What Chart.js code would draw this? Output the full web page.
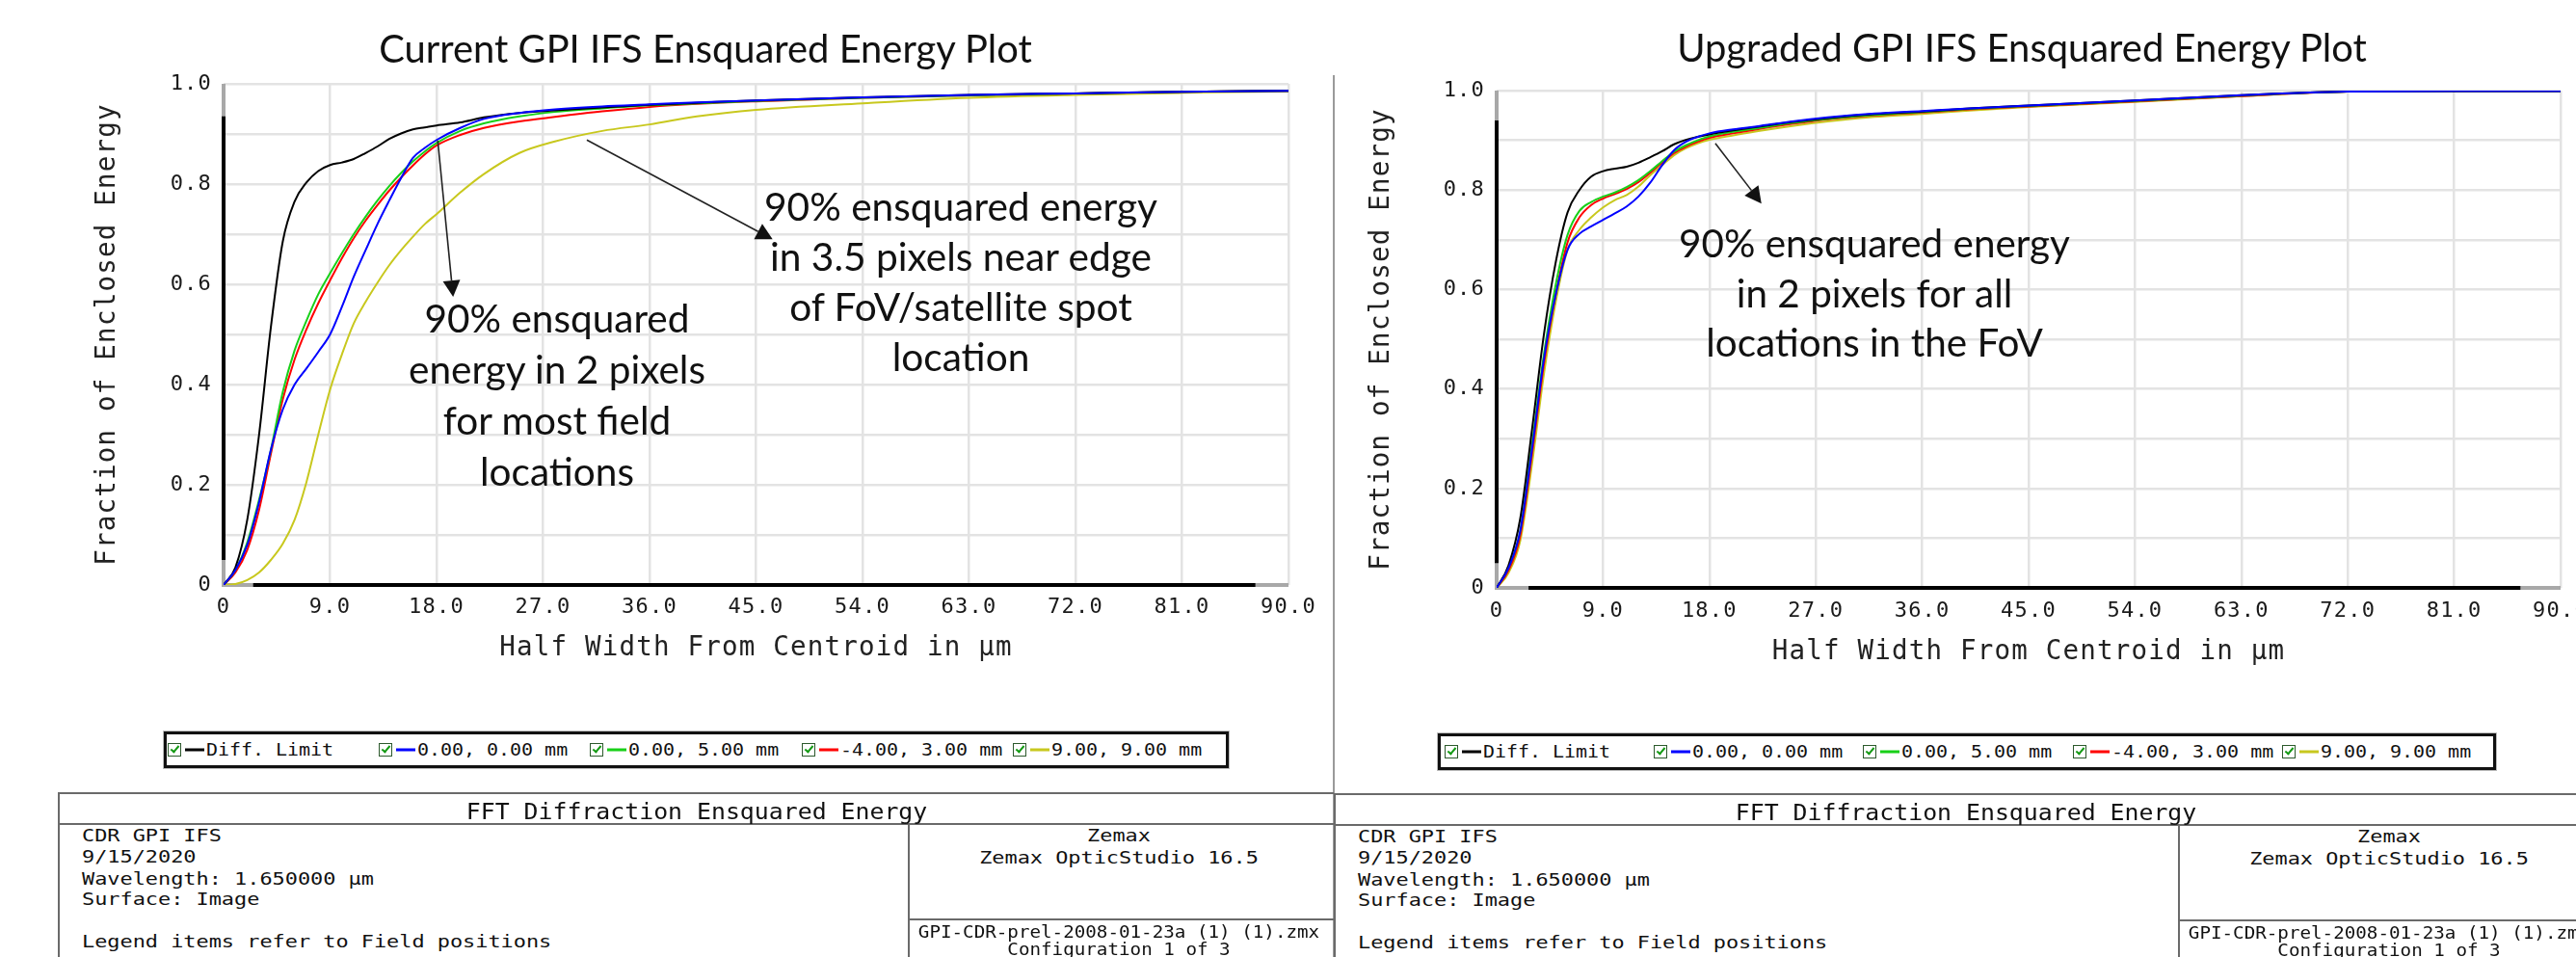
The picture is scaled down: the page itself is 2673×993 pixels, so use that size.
<!DOCTYPE html>
<html><head><meta charset="utf-8">
<script src="https://cdn.jsdelivr.net/npm/chart.js@4.4.1/dist/chart.umd.min.js"></script>
<style>
html,body{margin:0;padding:0;background:#fff;}
body{width:2673px;height:993px;position:relative;overflow:hidden;}
canvas{position:absolute;top:0;}
.a{position:absolute;white-space:nowrap;color:#111;}
.sans{font-family:Lato,"Open Sans",sans-serif;}
.ctr{transform:translate(-50%,-50%);}
.note{transform:translateX(-50%);text-align:center;}
.mono{font-family:"DejaVu Sans Mono",monospace;}
.vc{line-height:1;transform-origin:0 50%;}
.hc{line-height:1;transform-origin:50% 50%;}
.ln{position:absolute;background:#6a6a6a;}
.legbox{position:absolute;border:3px solid #111;box-sizing:border-box;box-shadow:0 0 0 1px #bbb;}
.cb{position:absolute;width:14px;height:14px;border:1px solid #2d5a2d;box-sizing:border-box;transform:translateY(-50%);background:#fff;}
.cb::after{content:'';position:absolute;left:3.5px;top:0px;width:3px;height:7px;border:solid #139a13;border-width:0 2px 2px 0;transform:rotate(40deg);}
.dash{position:absolute;height:3px;transform:translateY(-50%);}
</style>
</head><body>
<canvas id="cL" width="1384" height="700" style="left:0;width:1384px;height:700px"></canvas>
<canvas id="cR" width="1289" height="700" style="left:1384px;width:1289px;height:700px"></canvas>
<div id="overlay"></div>
<script>
// ---------------- data ----------------
const halfWidths = [0,1,2,3,4,5,6,7,8,9,10,11,12,13,14,15,16,17,18,20,22,25,28,32,36,40,45,54,63,72,81,90];

const seriesLabels = ['Diff. Limit','0.00, 0.00 mm','0.00, 5.00 mm','-4.00, 3.00 mm','9.00, 9.00 mm'];
const seriesColors = ['#000000','#0000ff','#18d018','#ff0000','#c8c81e'];

// Current GPI IFS
const currentDiff = [0,0.035,0.13,0.30,0.515,0.685,0.765,0.803,0.826,0.838,0.843,0.850,0.862,0.875,0.890,0.901,0.909,0.913,0.917,0.923,0.933,0.942,0.947,0.953,0.958,0.962,0.967,0.973,0.978,0.981,0.984,0.986];
const currentF1   = [0,0.03,0.08,0.165,0.27,0.35,0.40,0.432,0.465,0.50,0.555,0.615,0.668,0.72,0.767,0.812,0.852,0.872,0.888,0.912,0.93,0.942,0.949,0.955,0.959,0.963,0.967,0.973,0.978,0.981,0.984,0.986];
const currentF2   = [0,0.03,0.085,0.17,0.27,0.385,0.468,0.527,0.58,0.622,0.662,0.7,0.735,0.767,0.796,0.822,0.845,0.865,0.882,0.906,0.921,0.935,0.944,0.951,0.957,0.961,0.966,0.972,0.977,0.981,0.984,0.986];
const currentF3   = [0,0.025,0.07,0.15,0.262,0.37,0.45,0.51,0.562,0.608,0.652,0.692,0.727,0.758,0.787,0.813,0.837,0.859,0.877,0.898,0.912,0.925,0.934,0.945,0.954,0.96,0.965,0.972,0.977,0.981,0.984,0.986];
const currentF4   = [0,0.002,0.01,0.025,0.05,0.082,0.13,0.205,0.30,0.39,0.46,0.522,0.565,0.603,0.638,0.668,0.695,0.72,0.74,0.783,0.82,0.862,0.885,0.906,0.919,0.935,0.948,0.961,0.972,0.978,0.982,0.985];

// Upgraded GPI IFS
const upgradedDiff = [0,0.045,0.14,0.32,0.51,0.655,0.755,0.80,0.827,0.838,0.843,0.847,0.855,0.866,0.878,0.892,0.901,0.907,0.912,0.92,0.927,0.937,0.945,0.953,0.958,0.964,0.970,0.980,0.991,0.998,0.999,0.999];
const upgradedF1   = [0,0.04,0.115,0.28,0.46,0.59,0.68,0.712,0.727,0.74,0.753,0.767,0.787,0.815,0.85,0.88,0.897,0.907,0.914,0.922,0.928,0.938,0.946,0.954,0.959,0.964,0.97,0.98,0.991,0.998,0.999,0.999];
const upgradedF2   = [0,0.04,0.115,0.29,0.47,0.61,0.71,0.758,0.776,0.787,0.795,0.806,0.82,0.838,0.858,0.877,0.89,0.90,0.908,0.917,0.924,0.935,0.943,0.951,0.957,0.963,0.969,0.979,0.990,0.998,0.999,0.999];
const upgradedF3   = [0,0.035,0.105,0.27,0.45,0.59,0.695,0.745,0.77,0.783,0.792,0.802,0.816,0.835,0.855,0.874,0.887,0.897,0.905,0.914,0.922,0.933,0.942,0.95,0.956,0.962,0.968,0.978,0.989,0.998,0.999,0.999];
const upgradedF4   = [0,0.03,0.095,0.25,0.43,0.575,0.68,0.72,0.745,0.765,0.78,0.79,0.807,0.83,0.85,0.87,0.884,0.894,0.901,0.91,0.918,0.929,0.938,0.947,0.953,0.96,0.967,0.977,0.989,0.998,0.999,0.999];

const xTickLabels = ['0','9.0','18.0','27.0','36.0','45.0','54.0','63.0','72.0','81.0','90.0'];
const yTickLabels = ['0','','0.2','','0.4','','0.6','','0.8','','1.0'];

// annotation arrows [x1,y1,x2,y2] in data units
const currentArrows  = [[18.1,0.887,19.4,0.575],[30.7,0.888,46.4,0.69]];
const upgradedArrows = [[18.5,0.894,22.4,0.773]];

// ---------------- plugins ----------------
const zText = { id:'ztext', beforeDraw(chart){ chart.ctx.letterSpacing = '1.2px'; } };
const zAxes = {
  id:'zaxes',
  beforeDatasetsDraw(chart, args, o){
    const {ctx, chartArea:a, scales:{x,y}} = chart;
    ctx.save();
    ctx.lineWidth = 4; ctx.lineCap='butt';
    ctx.strokeStyle = '#a8a8a8';
    ctx.beginPath(); ctx.moveTo(a.left, a.top); ctx.lineTo(a.left, a.bottom+2); ctx.stroke();
    ctx.beginPath(); ctx.moveTo(a.left-2, a.bottom); ctx.lineTo(a.right, a.bottom); ctx.stroke();
    ctx.strokeStyle = '#000';
    ctx.beginPath(); ctx.moveTo(a.left, y.getPixelForValue(o.yBlack[1])); ctx.lineTo(a.left, y.getPixelForValue(o.yBlack[0])); ctx.stroke();
    ctx.beginPath(); ctx.moveTo(x.getPixelForValue(o.xBlack[0]), a.bottom); ctx.lineTo(x.getPixelForValue(o.xBlack[1]), a.bottom); ctx.stroke();
    ctx.restore();
  }
};
const zArrows = {
  id:'zarrows',
  afterDatasetsDraw(chart, args, o){
    const {ctx, scales:{x,y}} = chart;
    ctx.save();
    (o.list||[]).forEach(([x1,y1,x2,y2])=>{
      const p1=[x.getPixelForValue(x1), y.getPixelForValue(y1)];
      const p2=[x.getPixelForValue(x2), y.getPixelForValue(y2)];
      const ang=Math.atan2(p2[1]-p1[1], p2[0]-p1[0]);
      const L=17, W=9;
      const bx=p2[0]-L*Math.cos(ang), by=p2[1]-L*Math.sin(ang);
      ctx.strokeStyle='#222'; ctx.lineWidth=1.6;
      ctx.beginPath(); ctx.moveTo(p1[0],p1[1]); ctx.lineTo(bx,by); ctx.stroke();
      ctx.fillStyle='#111';
      ctx.beginPath(); ctx.moveTo(p2[0],p2[1]);
      ctx.lineTo(bx+W*Math.sin(ang), by-W*Math.cos(ang));
      ctx.lineTo(bx-W*Math.sin(ang), by+W*Math.cos(ang));
      ctx.closePath(); ctx.fill();
    });
    ctx.restore();
  }
};

function makeChart(id, seriesValues, g, arrows){
  const datasets = seriesValues.map((vals,i)=>({
    label: seriesLabels[i],
    data: halfWidths.map((h,k)=>({x:h, y:vals[k]})),
    borderColor: seriesColors[i], borderWidth: 2, pointRadius: 0,
    cubicInterpolationMode: 'monotone', fill:false, order: i===1?0:(i===0?1:i)
  }));
  return new Chart(document.getElementById(id), {
    type:'line',
    data:{datasets},
    options:{
      responsive:false, animation:false, devicePixelRatio:1,
      layout:{padding:{left:0, top:g.top, right:g.right, bottom:0}},
      plugins:{legend:{display:false}, tooltip:{enabled:false},
        zaxes:{yBlack:g.yBlack, xBlack:g.xBlack}, zarrows:{list:arrows}},
      scales:{
        x:{type:'linear', min:0, max:90,
           afterFit(s){ s.height=g.xh; s.paddingLeft=0; s.paddingRight=0; },
           grid:{color:'#e3e3e3', lineWidth:2.5, drawTicks:false},
           border:{display:false},
           ticks:{stepSize:9, autoSkip:false, maxRotation:0, padding:g.xpad, color:'#1a1a1a',
                  font:{family:'DejaVu Sans Mono', size:22},
                  callback:(v)=> xTickLabels[Math.round(v/9)] },
           title:{display:true, text:'Half Width From Centroid in µm', color:'#222',
                  font:{family:'DejaVu Sans Mono', size:27.5}, padding:{top:0,bottom:g.xtb}}
        },
        y:{type:'linear', min:0, max:1,
           afterFit(s){ s.width=g.yw; s.paddingTop=0; s.paddingBottom=0; },
           grid:{color:'#e3e3e3', lineWidth:2.5, drawTicks:false},
           border:{display:false},
           ticks:{stepSize:0.1, autoSkip:false, padding:12, color:'#1a1a1a',
                  font:{family:'DejaVu Sans Mono', size:22},
                  callback:(v)=> yTickLabels[Math.round(v*10)] },
           title:{display:true, text:'Fraction of Enclosed Energy', color:'#222',
                  font:{family:'DejaVu Sans Mono', size:27.5}, padding:{top:g.ytp,bottom:0}}
        }
      }
    },
    plugins:[zText, zAxes, zArrows]
  });
}

makeChart('cL', [currentDiff,currentF1,currentF2,currentF3,currentF4],
  {top:87, right:47, xh:93, yw:232, xpad:10, xtb:11, ytp:95, yBlack:[0.05,0.935], xBlack:[2.5,87.2]}, currentArrows);
makeChart('cR', [upgradedDiff,upgradedF1,upgradedF2,upgradedF3,upgradedF4],
  {top:94, right:16, xh:90, yw:169, xpad:11, xtb:7, ytp:33, yBlack:[0.05,0.94], xBlack:[2.7,86.6]}, upgradedArrows);

// ---------------- overlay (text, legend, info table) ----------------
const ov = document.getElementById('overlay');
function add(html, cls, css){ const d=document.createElement('div'); d.className=cls; d.innerHTML=html; Object.assign(d.style, css); ov.appendChild(d); return d; }
function line(l,t,w,h,c){ return add('', 'ln', {left:l+'px', top:t+'px', width:w+'px', height:h+'px', background:c||'#6a6a6a'}); }
function fit(el, target){ const w=el.getBoundingClientRect().width; const fs=parseFloat(getComputedStyle(el).fontSize); el.style.fontSize=(fs*target/w)+'px'; }
// mono text: left-aligned (vertical centre at y) or centred at x
function monoL(t, x, y, fs, sx){ return add(t,'a mono vc',{left:x+'px', top:y+'px', fontSize:fs+'px', transform:`translateY(-50%) scaleX(${sx})`}); }
function monoC(t, x, y, fs, sx){ return add(t,'a mono hc',{left:x+'px', top:y+'px', fontSize:fs+'px', transform:`translate(-50%,-50%) scaleX(${sx})`}); }

// titles
fit(add('Current GPI IFS Ensquared Energy Plot','a sans ctr',{left:'732px',top:'49px',fontSize:'38px'}), 678);
fit(add('Upgraded GPI IFS Ensquared Energy Plot','a sans ctr',{left:'2098px',top:'49px',fontSize:'38px'}), 716);

// notes
fit(add('90% ensquared<br>energy in 2 pixels<br>for most field<br>locations','a sans note',{left:'578px',top:'303px',fontSize:'40px',lineHeight:'53px'}), 308);
fit(add('90% ensquared energy<br>in 3.5 pixels near edge<br>of FoV/satellite spot<br>location','a sans note',{left:'997px',top:'188px',fontSize:'40px',lineHeight:'52px'}), 408);
fit(add('90% ensquared energy<br>in 2 pixels for all<br>locations in the FoV','a sans note',{left:'1945px',top:'226px',fontSize:'40px',lineHeight:'51.5px'}), 406);

// panel divider
line(1383, 78, 2, 915, '#9a9a9a');

// legends
function legend(left, top, w, offs){
  add('', 'legbox', {left:left+'px', top:top+'px', width:w+'px', height:'38px'});
  const cy = top+19;
  offs.forEach((o,i)=>{
    add('', 'cb', {left:(left+o)+'px', top:cy+'px'});
    add('', 'dash', {left:(left+o+18)+'px', top:cy+'px', width:'20px', background:seriesColors[i]});
    monoL(seriesLabels[i], left+o+40, cy+1, 17.5, 1.14);
  });
}
legend(170, 759, 1105, [4,223,442,662,881]);
legend(1492, 761, 1098, [7,224,441,659,876]);

// info tables
function infoTable(x0, x1, divX, tTop, hx){
  line(x0, tTop, x1-x0, 2);
  line(x0, tTop+32, x1-x0, 2);
  line(x0-1, tTop, 2, 993-tTop);
  line(divX, tTop+32, 2, 993-tTop-32);
  line(divX, tTop+131, x1-divX, 2);
  monoC('FFT Diffraction Ensquared Energy', hx, tTop+20, 23, 1.08);
  const lx = x0+24;
  const rows = [['CDR GPI IFS',46],['9/15/2020',68],['Wavelength: 1.650000 µm',91],['Surface: Image',112],['Legend items refer to Field positions',156]];
  rows.forEach(([t,dy])=> monoL(t, lx, tTop+dy, 17.5, 1.25));
  const rc = divX + 219;
  monoC('Zemax', rc, tTop+46, 17.5, 1.25);
  monoC('Zemax OpticStudio 16.5', rc, tTop+69, 17.5, 1.25);
  monoC('GPI-CDR-prel-2008-01-23a (1) (1).zmx', rc, tTop+145, 17, 1.13);
  monoC('Configuration 1 of 3', rc, tTop+163, 17, 1.13);
}
infoTable(61, 1384, 942, 822, 723);
infoTable(1385, 2673, 2260, 823, 2040);
</script>
</body></html>
